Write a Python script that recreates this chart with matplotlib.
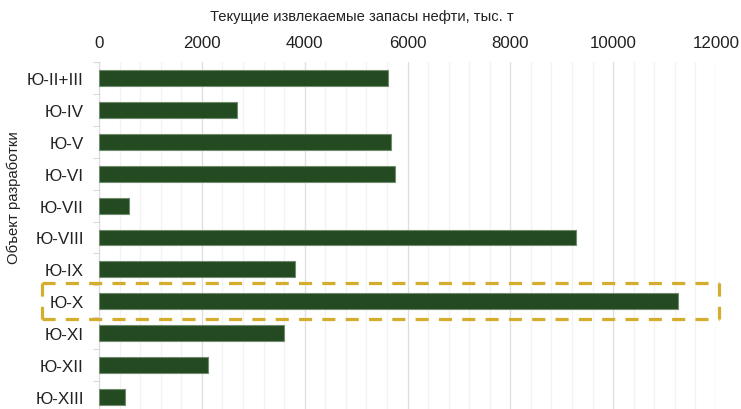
import matplotlib
matplotlib.use("Agg")
import matplotlib.pyplot as plt
import matplotlib.transforms as mtransforms
from matplotlib.lines import Line2D
from matplotlib.ticker import MultipleLocator

plt.rcParams['font.family'] = ['Liberation Sans', 'DejaVu Sans']

categories = ["Ю-II+III", "Ю-IV", "Ю-V", "Ю-VI", "Ю-VII", "Ю-VIII",
              "Ю-IX", "Ю-X", "Ю-XI", "Ю-XII", "Ю-XIII"]
values = [5620, 2690, 5680, 5760, 590, 9280, 3810, 11260, 3600, 2120, 500]
x_ticks = [0, 2000, 4000, 6000, 8000, 10000, 12000]
highlight = "Ю-X"
title = "Текущие извлекаемые запасы нефти, тыс. т"
ylabel = "Объект разработки"

fig = plt.figure(figsize=(7.41, 4.10), dpi=100)
ax = fig.add_axes([99/741, -4/410, (716-99)/741, (414-63)/410])

ypos = list(range(len(categories)))
ax.barh(ypos, values, height=0.5, color='#244a22', edgecolor='#6f8c6c',
        linewidth=0.8, zorder=3)

ax.set_xlim(0, 12000)
ax.set_ylim(len(categories) - 0.5, -0.5)
ax.set_xticks(x_ticks)
ax.set_xticklabels([str(t) for t in x_ticks])
ax.xaxis.set_minor_locator(MultipleLocator(400))
ax.xaxis.tick_top()
ax.tick_params(axis='x', which='both', length=0, pad=9, labelsize=12.2, colors='#222222')
ax.set_yticks(ypos)
ax.set_yticklabels(categories)
ax.set_yticks([i + 0.5 for i in range(-1, len(categories))], minor=True)
ax.tick_params(axis='y', which='major', length=0, pad=11, labelsize=12.3, colors='#222222')
ax.tick_params(axis='y', which='minor', length=4, width=0.8, color='#d9d9d9')

ax.grid(axis='x', which='major', color='#dedede', linewidth=0.9, zorder=0)
ax.grid(axis='x', which='minor', color='#f2f2f2', linewidth=0.9, zorder=0)
ax.set_axisbelow(True)
for s in ['top', 'right', 'bottom']:
    ax.spines[s].set_visible(False)
ax.spines['left'].set_color('#d9d9d9')
ax.spines['left'].set_linewidth(0.8)

fig.text(362/741, 1 - 17/410, title, ha='center', va='center', fontsize=10.6, color='#222222')
fig.text(14/741, 1 - 198/410, ylabel, ha='center', va='center', rotation=90,
         fontsize=10.7, color='#222222')

idx = categories.index(highlight)
trans = mtransforms.blended_transform_factory(ax.transAxes, ax.transData)
ax_w = 716 - 99
x0 = (42 - 99) / ax_w
x1 = (719 - 99) / ax_w
ya = idx - 0.57
yb = idx + 0.54
box_style = dict(color='#d4ad2c', linewidth=2.3, linestyle=(0, (4.1, 3.2)),
                 transform=trans, clip_on=False, zorder=5, solid_capstyle='butt',
                 dash_capstyle='butt')
for xs, ys in [([x0, x1], [ya, ya]), ([x0, x1], [yb, yb]),
               ([x0, x0], [ya, yb]), ([x1, x1], [ya, yb])]:
    ax.add_line(Line2D(xs, ys, **box_style))

fig.savefig("out.png", dpi=100)
